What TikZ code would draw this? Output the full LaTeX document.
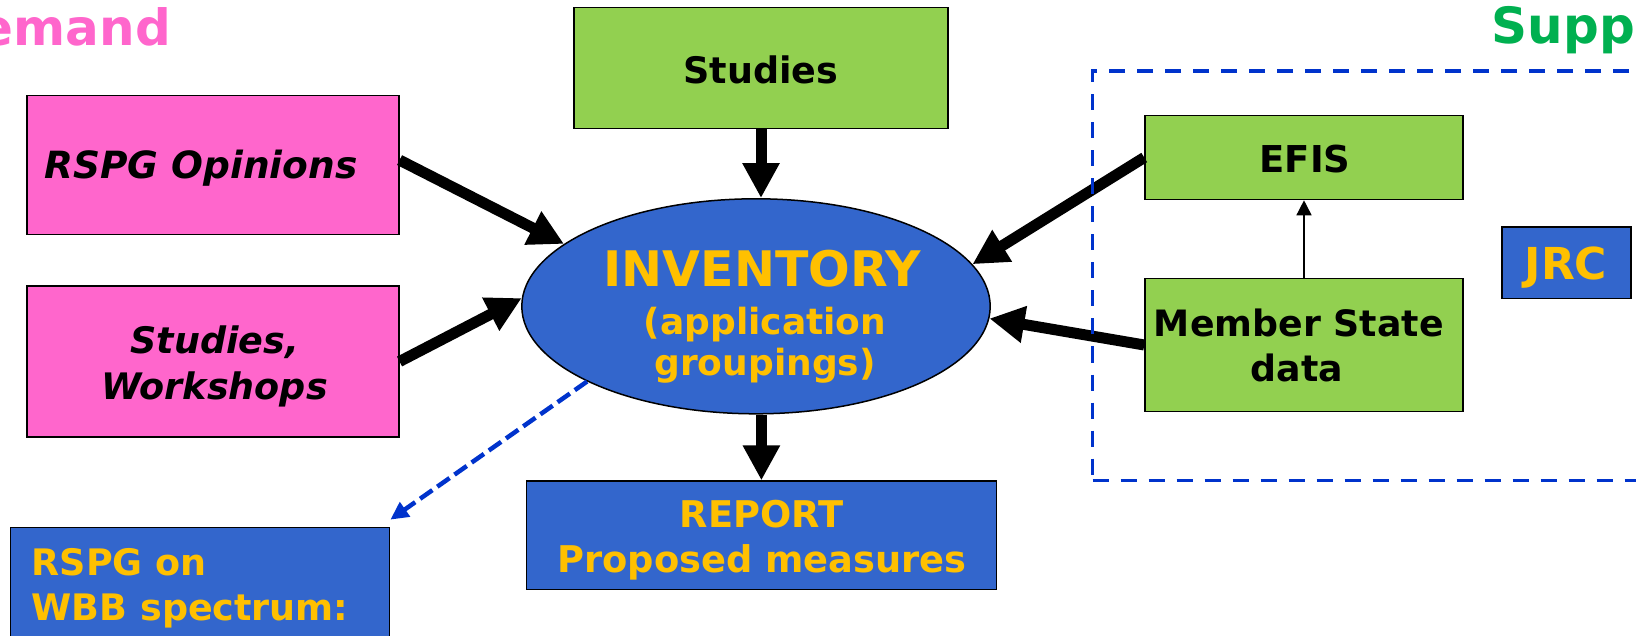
\documentclass[tikz,border=0pt]{standalone}
\usepackage{fontspec}
\setmainfont{DejaVu Sans}
\usetikzlibrary{arrows.meta,shapes.geometric}
\definecolor{pinkfill}{HTML}{FF66CC}
\definecolor{greenfill}{HTML}{92D050}
\definecolor{bluefill}{HTML}{3366CC}
\definecolor{goldtext}{HTML}{FFC000}
\definecolor{greentitle}{HTML}{00B050}
\definecolor{dashblue}{HTML}{0033CC}
\newcommand\pxfont[1]{\fontsize{#1}{#1}\selectfont\bfseries}
\begin{document}
\begin{tikzpicture}[x=1pt,y=-1pt,
  boxbase/.style={rectangle, draw=black, line width=1.5pt, inner sep=0pt},
  pinkbox/.style={boxbase, fill=pinkfill},
  greenbox/.style={boxbase, fill=greenfill},
  bluebox/.style={boxbase, fill=bluefill},
  txt/.style={inner sep=0pt, anchor=base},
  bigarrow/.style={line width=11pt, draw=black, -{Triangle[length=35pt,width=35pt]}},
  thinarrow/.style={line width=1.5pt, draw=black, -{Triangle[length=15pt,width=15pt]}},
  dasharrow/.style={line width=4.5pt, draw=dashblue, dash pattern=on 15pt off 6pt, -{Triangle[length=18pt,width=17pt]}},
  regionbox/.style={rectangle, draw=dashblue, line width=3.5pt, dash pattern=on 16pt off 12pt, inner sep=0pt}
]
\useasboundingbox (0,0) rectangle (1636,636);

% titles
\node[txt, anchor=base east, text=pinkfill, font=\pxfont{50}] (demandlbl) at (171,46) {emand};
\node[txt, anchor=base west, text=greentitle, font=\pxfont{50}] (supplylbl) at (1491.5,43.5) {Supp};

% demand side boxes
\node[pinkbox, minimum width=372pt, minimum height=138.8pt] (rspg) at (212.8,165.1) {};
\node[txt, font=\pxfont{37.5}\itshape] (rspgtxt) at (201,178.5) {RSPG Opinions};

\node[pinkbox, minimum width=372pt, minimum height=150.6pt] (stw) at (212.8,361.5) {};
\node[txt, font=\pxfont{36.5}\itshape] (stwtxta) at (214.7,353.7) {Studies,};
\node[txt, font=\pxfont{36.5}\itshape] (stwtxtb) at (214.7,399.6) {Workshops};

\node[bluebox, minimum width=379.3pt, minimum height=132.6pt] (wbb) at (199.95,593.7) {};
\node[txt, anchor=base west, text=goldtext, font=\pxfont{36.5}] (wbbtxta) at (31.5,575.3) {RSPG on};
\node[txt, anchor=base west, text=goldtext, font=\pxfont{36.5}] (wbbtxtb) at (31.5,620.6) {WBB spectrum:};

% centre
\node[greenbox, minimum width=374.2pt, minimum height=121pt] (studies) at (761,67.8) {};
\node[txt, font=\pxfont{36.5}] (studiestxt) at (761,84) {Studies};

\node[ellipse, draw=black, line width=1.5pt, fill=bluefill, minimum width=468.4pt, minimum height=215pt, inner sep=0pt] (inv) at (756,306.3) {};
\node[txt, text=goldtext, font=\pxfont{49}] (invtxta) at (762,286.2) {INVENTORY};
\node[txt, text=goldtext, font=\pxfont{36}] (invtxtb) at (765,334.6) {(application};
\node[txt, text=goldtext, font=\pxfont{36}] (invtxtc) at (765,375.2) {groupings)};

\node[bluebox, minimum width=470pt, minimum height=108.3pt] (report) at (761.4,535.3) {};
\node[txt, text=goldtext, font=\pxfont{36.8}] (reporttxta) at (761.7,527.9) {REPORT};
\node[txt, text=goldtext, font=\pxfont{36.8}] (reporttxtb) at (762,572) {Proposed measures};

% supply side
\node[greenbox, minimum width=318pt, minimum height=84.1pt] (efis) at (1304,157.5) {};
\node[txt, font=\pxfont{37}] (efistxt) at (1305,172.4) {EFIS};

\node[greenbox, minimum width=318pt, minimum height=133.4pt] (ms) at (1304,345) {};
\node[txt, font=\pxfont{36.3}] (mstxta) at (1298.8,336.7) {Member State};
\node[txt, font=\pxfont{36.3}] (mstxtb) at (1297,381.6) {data};

\node[bluebox, minimum width=129.3pt, minimum height=71.6pt] (jrc) at (1566.4,262.8) {};
\node[txt, text=goldtext, font=\pxfont{44}] (jrctxt) at (1566,280) {JRC};

% connectors
\draw[bigarrow] ([yshift=5pt]rspg.east) -- (inv.162);
\draw[bigarrow] (stw.east) -- (inv.178);
\draw[bigarrow] (studies.south) -- (studies.south |- inv.north);
\draw[bigarrow] (report.north |- inv.south) -- (report.north);
\draw[bigarrow] (efis.west) -- (inv.11);
\draw[bigarrow] (ms.west) -- (inv.357);
\draw[thinarrow] (ms.north) -- (efis.south);
\draw[dasharrow] (inv.204.5) -- ([yshift=7pt]wbb.north east);

% dashed supply region
\node[regionbox, minimum width=567.4pt, minimum height=409.7pt] (supp) at (1376.3,275.85) {};
\end{tikzpicture}
\end{document}
